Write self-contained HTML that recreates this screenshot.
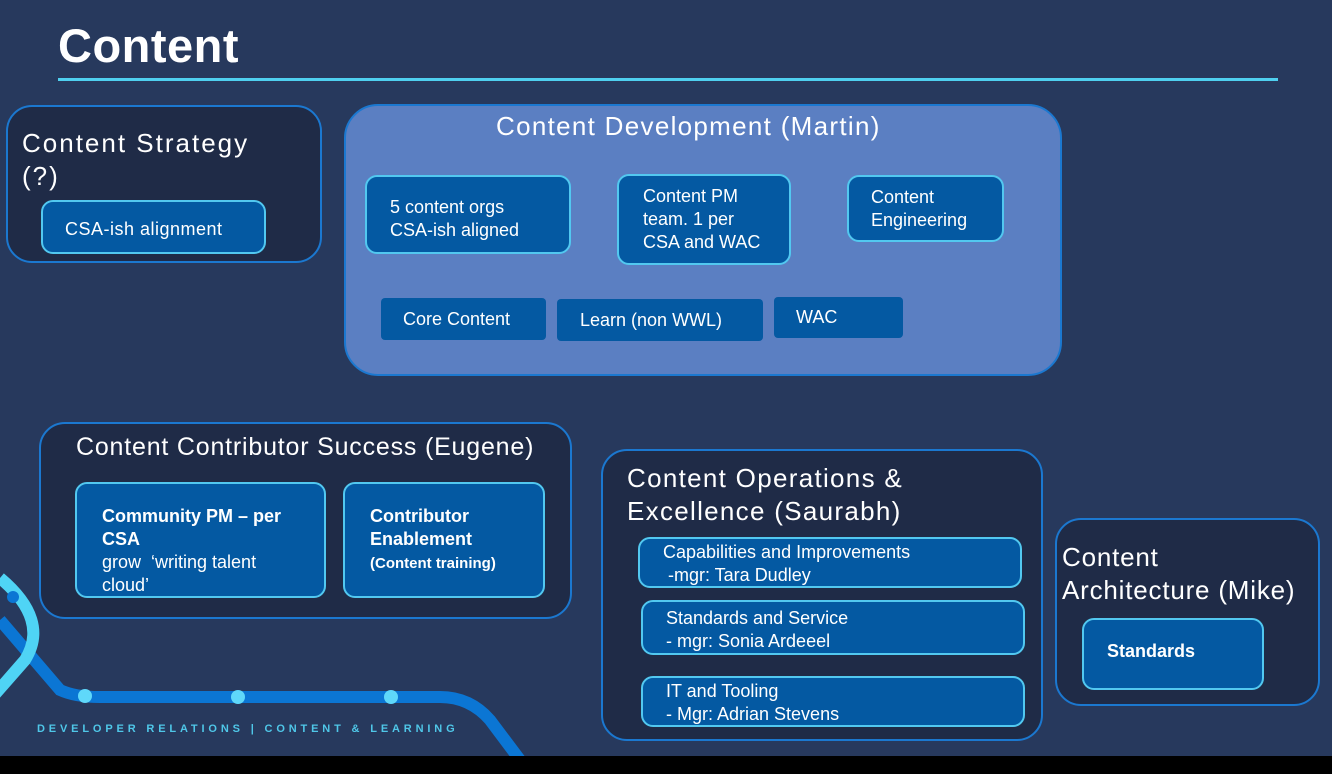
<!DOCTYPE html>
<html><head><meta charset="utf-8"><style>
body{margin:0;width:1332px;height:774px;background:#27395d;overflow:hidden;position:relative;font-family:"Liberation Sans",sans-serif;color:#fff}
div{position:absolute;box-sizing:border-box}
.d{background:#1f2b47;border:2px solid #1b78d0;border-radius:26px}
.b{background:#0459a2;border:2px solid #52c8f0;border-radius:12px;font-size:18px;line-height:23px}
.t{font-size:26px;line-height:33px;letter-spacing:1.3px}
</style></head><body>
<svg style="position:absolute;left:0;top:0" width="1332" height="774">
<path d="M0,620 L60,690 Q75,697 100,697 L440,697 Q470,697 490,720 L520,760" stroke="#0b76d4" stroke-width="12" fill="none"/>
<path d="M0,578 Q50,620 25,660 L-10,700" stroke="#4fd4f5" stroke-width="12" fill="none"/>
<circle cx="13" cy="597" r="6" fill="#0b76d4"/>
<circle cx="85" cy="696" r="7" fill="#5fd8fa"/><circle cx="238" cy="697" r="7" fill="#5fd8fa"/><circle cx="391" cy="697" r="7" fill="#5fd8fa"/>
</svg>
<div style="left:0;top:756px;width:1332px;height:18px;background:#000"></div>
<div style="left:58px;top:16px;font-size:47px;font-weight:bold;line-height:60px;letter-spacing:0.5px">Content</div>
<div style="left:58px;top:78px;width:1220px;height:3px;background:#4fd0f0"></div>
<div style="left:37px;top:723px;font-size:11px;letter-spacing:3.85px;color:#4fc7e8;font-weight:bold">DEVELOPER RELATIONS | CONTENT &amp; LEARNING</div>

<div class="d" style="left:6px;top:105px;width:316px;height:158px"></div>
<div class="t" style="left:22px;top:127px;letter-spacing:2px">Content Strategy<br>(?)</div>
<div class="b" style="left:41px;top:200px;width:225px;height:54px;padding:16px 0 0 22px;letter-spacing:0.5px">CSA-ish alignment</div>

<div style="left:344px;top:104px;width:718px;height:272px;background:#5b7fc2;border:2px solid #1b78d0;border-radius:34px"></div>
<div class="t" style="left:496px;top:110px">Content Development (Martin)</div>
<div class="b" style="left:365px;top:175px;width:206px;height:79px;padding:19px 0 0 23px">5 content orgs<br>CSA-ish aligned</div>
<div class="b" style="left:617px;top:174px;width:174px;height:91px;padding:9px 0 0 24px">Content PM<br>team. 1 per<br>CSA and WAC</div>
<div class="b" style="left:847px;top:175px;width:157px;height:67px;padding:9px 0 0 22px">Content<br>Engineering</div>
<div class="b" style="left:381px;top:298px;width:165px;height:42px;border:none;padding:10px 0 0 22px;border-radius:4px">Core Content</div>
<div class="b" style="left:557px;top:299px;width:206px;height:42px;border:none;padding:10px 0 0 23px;border-radius:4px">Learn (non WWL)</div>
<div class="b" style="left:774px;top:297px;width:129px;height:41px;border:none;padding:9px 0 0 22px;border-radius:4px">WAC</div>

<div class="d" style="left:39px;top:422px;width:533px;height:197px"></div>
<div class="t" style="left:76px;top:431px;font-size:25px;letter-spacing:0.8px">Content Contributor Success (Eugene)</div>
<div class="b" style="left:75px;top:482px;width:251px;height:116px;padding:21px 0 0 25px"><b>Community PM – per<br>CSA</b><br>grow &nbsp;‘writing talent<br>cloud’</div>
<div class="b" style="left:343px;top:482px;width:202px;height:116px;padding:21px 0 0 25px"><b>Contributor<br>Enablement</b><br><b style="font-size:15px">(Content training)</b></div>

<div class="d" style="left:601px;top:449px;width:442px;height:292px"></div>
<div class="t" style="left:627px;top:462px">Content Operations &amp;<br>Excellence (Saurabh)</div>
<div class="b" style="left:638px;top:537px;width:384px;height:51px;padding:2px 0 0 23px">Capabilities and Improvements<br>&nbsp;-mgr: Tara Dudley</div>
<div class="b" style="left:641px;top:600px;width:384px;height:55px;padding:5px 0 0 23px">Standards and Service<br>- mgr: Sonia Ardeeel</div>
<div class="b" style="left:641px;top:676px;width:384px;height:51px;padding:2px 0 0 23px">IT and Tooling<br>- Mgr: Adrian Stevens</div>

<div class="d" style="left:1055px;top:518px;width:265px;height:188px"></div>
<div class="t" style="left:1062px;top:541px;letter-spacing:0.8px">Content<br>Architecture (Mike)</div>
<div class="b" style="left:1082px;top:618px;width:182px;height:72px;padding:20px 0 0 23px"><b>Standards</b></div>
</body></html>
